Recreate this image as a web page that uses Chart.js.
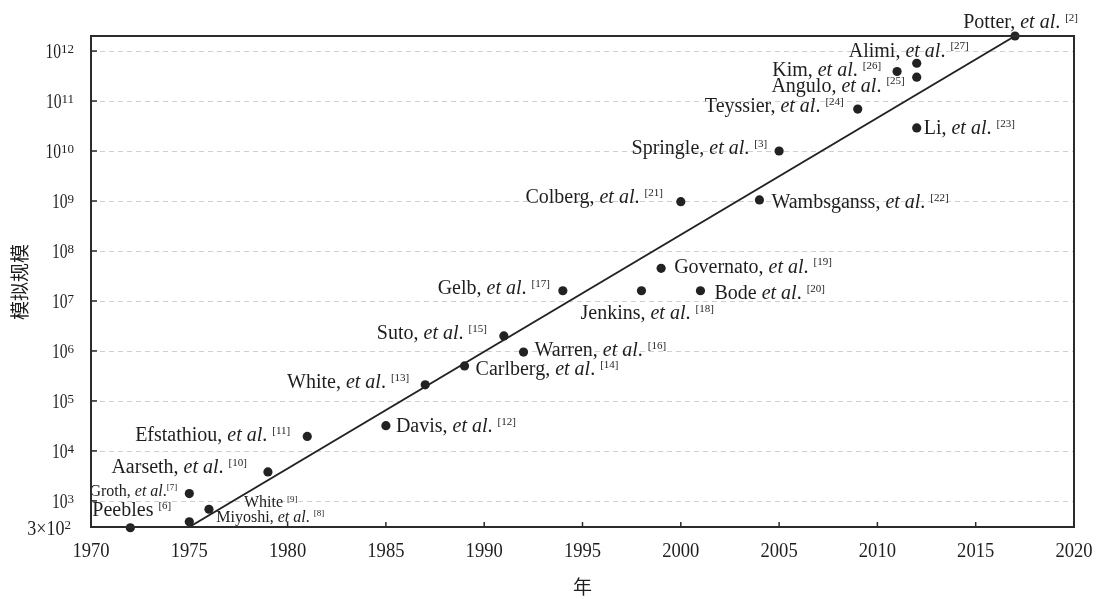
<!DOCTYPE html>
<html>
<head>
<meta charset="utf-8">
<script src="https://cdn.jsdelivr.net/npm/chart.js@4/dist/chart.umd.min.js"></script>
<style>
    html, body { margin: 0; padding: 0; background: #ffffff; }
    #wrap { width: 1097px; height: 599px; }
</style>
</head>
<body>
<div id="wrap"><canvas id="scaleChart" width="1097" height="599"></canvas></div>
<script>
// simulation size (particle count) by year
const years = [1972, 1975, 1975, 1976, 1979, 1981, 1985, 1987, 1989, 1991, 1992, 1994,
    1998, 1999, 2001, 2000, 2004, 2005, 2009, 2011, 2012, 2012, 2012, 2017];
const particles = [290, 1400, 380, 680, 3800, 19500, 32000, 210000, 500000, 2000000, 950000, 16000000,
    16000000, 45000000, 16000000, 970000000, 1050000000, 1.0e10, 6.9e10, 3.9e11, 3.0e11, 5.7e11, 2.9e10, 2.0e12];
const authors = ["Peebles", "Groth,", "Miyoshi,", "White", "Aarseth,", "Efstathiou,", "Davis,", "White,",
    "Carlberg,", "Suto,", "Warren,", "Gelb,", "Jenkins,", "Governato,", "Bode", "Colberg,", "Wambsganss,",
    "Springle,", "Teyssier,", "Kim,", "Angulo,", "Alimi,", "Li,", "Potter,"];
const withEtAl = [false, true, true, false, true, true, true, true, true, true, true, true,
    true, true, true, true, true, true, true, true, true, true, true, true];
const refs = [6, 7, 8, 9, 10, 11, 12, 13, 14, 15, 16, 17, 18, 19, 20, 21, 22, 3, 24, 26, 25, 27, 23, 2];

// fitted trend
const trendYears = [1975, 2017];
const trendValues = [300, 2.0e12];

// axis ticks
const yearTicks = [1970, 1975, 1980, 1985, 1990, 1995, 2000, 2005, 2010, 2015, 2020];
const decadeExponents = [3, 4, 5, 6, 7, 8, 9, 10, 11, 12];

// label placement next to each dot: [dx, dy, align, fontSize, gapBeforeRef]
const labelPlacement = [
    [-38, -18, "left", 20, true],
    [-12, -3, "right", 16, false],
    [27, -5, "left", 16, true],
    [35, -7, "left", 16, true],
    [-21, -5, "right", 20, true],
    [-17, -2, "right", 20, true],
    [10, 0, "left", 20, true],
    [-16, -3, "right", 20, true],
    [11, 3, "left", 20, true],
    [-17, -3, "right", 20, true],
    [11, -2, "left", 20, true],
    [-13, -3, "right", 20, true],
    [-61, 22, "left", 20, true],
    [13, -2, "left", 20, true],
    [14, 2, "left", 20, true],
    [-18, -5, "right", 20, true],
    [12, 2, "left", 20, true],
    [-12, -3, "right", 20, true],
    [-14, -3, "right", 20, true],
    [-16, -2, "right", 20, true],
    [-12, 8, "right", 20, true],
    [52, -13, "right", 20, true],
    [7, 0, "left", 20, true],
    [63, -14, "right", 20, true]
];

const colours = {
    ink: "#1e1e1e",
    axis: "#2b2b2b",
    grid: "#cfcfcf",
    dot: "#222222"
};
const serif = "\"Liberation Serif\", \"Times New Roman\", serif";
const cjk = "\"Noto Sans CJK SC\", sans-serif";

function buildPoints() {
    return years.map((year, i) => ({ x: year, y: particles[i] }));
}

function buildTrend() {
    return trendYears.map((year, i) => ({ x: year, y: trendValues[i] }));
}

function drawSqueezed(ctx, text, x, y, align, squeeze) {
    ctx.save();
    ctx.translate(x, y);
    ctx.scale(squeeze, 1);
    ctx.textAlign = align;
    ctx.fillText(text, 0, 0);
    ctx.restore();
}

function labelParts(i) {
    const parts = [];
    const gap = labelPlacement[i][4] ? " " : "";

    if (withEtAl[i]) {
        parts.push({ text: authors[i] + " ", style: "normal" });
        parts.push({ text: "et al", style: "italic" });
        parts.push({ text: "." + gap, style: "normal" });
    } else {
        parts.push({ text: authors[i] + " ", style: "normal" });
    }

    parts.push({ text: "[" + refs[i] + "]", style: "sup" });
    return parts;
}

function partFont(style, size) {
    if (style === "italic") {
        return "italic " + size + "px " + serif;
    }
    if (style === "sup") {
        return Math.round(size * 0.56) + "px " + serif;
    }
    return size + "px " + serif;
}

function drawLabel(ctx, i, px, py) {
    const [dx, dy, align, size] = labelPlacement[i];
    const parts = labelParts(i);

    const widths = parts.map((part) => {
        ctx.font = partFont(part.style, size);
        return ctx.measureText(part.text).width;
    });
    const total = widths.reduce((sum, w) => sum + w, 0);

    let cursor = align === "right" ? px + dx - total : px + dx;
    const baseline = py + dy + size * 0.32;

    ctx.textAlign = "left";
    ctx.textBaseline = "alphabetic";
    ctx.fillStyle = colours.ink;

    parts.forEach((part, k) => {
        ctx.font = partFont(part.style, size);
        const lift = part.style === "sup" ? size * 0.36 : 0;
        ctx.fillText(part.text, cursor, baseline - lift);
        cursor += widths[k];
    });
}

const gridPlugin = {
    id: "decadeGrid",
    beforeDatasetsDraw(chart) {
        const { ctx, chartArea: area, scales: { y } } = chart;

        ctx.save();
        ctx.strokeStyle = colours.grid;
        ctx.lineWidth = 1;
        ctx.setLineDash([5, 4]);

        decadeExponents.forEach((exp) => {
            const py = Math.round(y.getPixelForValue(Math.pow(10, exp))) + 0.5;
            ctx.beginPath();
            ctx.moveTo(area.left, py);
            ctx.lineTo(area.right, py);
            ctx.stroke();
        });

        ctx.restore();
    }
};

const framePlugin = {
    id: "frameAndText",
    afterDraw(chart) {
        const { ctx, chartArea: area, scales: { x, y } } = chart;

        ctx.save();

        // point labels
        const meta = chart.getDatasetMeta(0);
        meta.data.forEach((point, i) => drawLabel(ctx, i, point.x, point.y));

        // frame with inward ticks
        ctx.strokeStyle = colours.axis;
        ctx.lineWidth = 1.5;
        yearTicks.forEach((year) => {
            const px = x.getPixelForValue(year);
            ctx.beginPath();
            ctx.moveTo(px, area.bottom);
            ctx.lineTo(px, area.bottom - 5);
            ctx.stroke();
        });
        decadeExponents.forEach((exp) => {
            const py = y.getPixelForValue(Math.pow(10, exp));
            ctx.beginPath();
            ctx.moveTo(area.left, py);
            ctx.lineTo(area.left + 6, py);
            ctx.stroke();
        });
        ctx.lineWidth = 2;
        ctx.strokeRect(area.left, area.top, area.right - area.left, area.bottom - area.top);

        // tick labels
        ctx.fillStyle = colours.ink;
        ctx.textBaseline = "middle";
        ctx.font = "20px " + serif;
        yearTicks.forEach((year) => {
            drawSqueezed(ctx, String(year), x.getPixelForValue(year), area.bottom + 25, "center", 0.93);
        });

        const labelRight = area.left - 17;
        decadeExponents.forEach((exp) => {
            const py = y.getPixelForValue(Math.pow(10, exp));
            ctx.font = "13px " + serif;
            const supWidth = ctx.measureText(String(exp)).width;
            ctx.textAlign = "left";
            ctx.fillText(String(exp), labelRight - supWidth, py - 1.5);
            ctx.font = "20px " + serif;
            drawSqueezed(ctx, "10", labelRight - supWidth, py + 2, "right", 0.78);
        });

        // lower bound label 3x10^2
        const pyMin = y.getPixelForValue(y.min);
        ctx.font = "13px " + serif;
        ctx.textAlign = "left";
        const twoWidth = ctx.measureText("2").width;
        ctx.fillText("2", area.left - 20 - twoWidth, pyMin - 1);
        ctx.font = "20px " + serif;
        drawSqueezed(ctx, "3\u00d710", area.left - 20 - twoWidth, pyMin + 3, "right", 0.9);

        // axis titles
        ctx.font = "19px " + cjk;
        ctx.textAlign = "center";
        ctx.fillText("\u5e74", (area.left + area.right) / 2, 587);

        ctx.translate(20, 282);
        ctx.rotate(-Math.PI / 2);
        ctx.fillText("\u6a21\u62df\u89c4\u6a21", 0, 0);

        ctx.restore();
    }
};

const chart = new Chart(document.getElementById("scaleChart"), {
    type: "scatter",
    data: {
        datasets: [
            {
                label: "simulations",
                data: buildPoints(),
                backgroundColor: colours.dot,
                borderWidth: 0,
                pointRadius: 4.6,
                clip: false
            },
            {
                label: "trend",
                data: buildTrend(),
                showLine: true,
                borderColor: colours.dot,
                borderWidth: 2,
                pointRadius: 0,
                clip: false
            }
        ]
    },
    options: {
        responsive: false,
        animation: false,
        layout: {
            padding: { left: 91, right: 23, top: 36, bottom: 72 }
        },
        plugins: {
            legend: { display: false },
            tooltip: { enabled: false }
        },
        scales: {
            x: {
                type: "linear",
                min: 1970,
                max: 2020,
                ticks: { display: false },
                grid: { display: false, drawTicks: false },
                border: { display: false }
            },
            y: {
                type: "logarithmic",
                min: 300,
                max: 2.0e12,
                ticks: { display: false },
                grid: { display: false, drawTicks: false },
                border: { display: false }
            }
        }
    },
    plugins: [gridPlugin, framePlugin]
});
</script>
</body>
</html>
